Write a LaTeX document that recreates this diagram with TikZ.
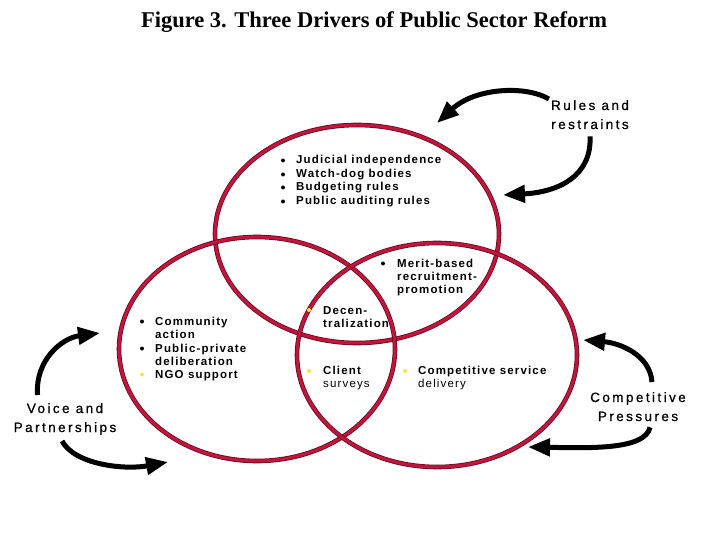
\documentclass[tikz,border=0pt]{standalone}
\usepackage{fontspec}
\usetikzlibrary{shapes.geometric,arrows.meta,positioning}
\setmainfont{Liberation Serif}
\newfontfamily\itemfont[LetterSpace=10]{Liberation Sans}
\newfontfamily\driverfont[LetterSpace=18, FakeBold=0.8]{Liberation Sans}
\definecolor{ringred}{RGB}{192,22,62}
\definecolor{ringdark}{RGB}{105,10,32}
\definecolor{dotyellow}{RGB}{240,228,70}

\begin{document}
\begin{tikzpicture}[x=1pt, y=-1pt,
	ring/.style={ellipse, draw=ringdark, double=ringred, double distance=3pt, line width=0.8pt, inner sep=0pt},
	item/.style={anchor=base west, inner sep=0pt, align=left, font=\itemfont\bfseries\fontsize{11.5}{13}\selectfont},
	driver/.style={anchor=base, inner sep=4pt, align=center, font=\driverfont\fontsize{13.5}{19}\selectfont},
	dot/.style={circle, fill=black, inner sep=0pt, minimum size=4pt},
	ydot/.style={dot, fill=dotyellow},
	push/.style={line width=5pt, -{Triangle[length=22pt, width=17pt]}},
	title/.style={anchor=base, inner sep=0pt, font=\bfseries\fontsize{22.5}{25}\selectfont}
	]
	
	\useasboundingbox (0,0) rectangle (720,540);
	
	\node[title] (head) at (374,28) {Figure 3. Three Drivers of Public Sector Reform};
	
	\node[ring, minimum width=284pt, minimum height=218pt] (ctop) at (357,234) {};
	\node[ring, minimum width=276pt, minimum height=224pt] (cleft) at (257,349) {};
	\node[ring, minimum width=280pt, minimum height=224pt] (cright) at (437,355) {};
	
	\node[item] (jud) at (296,164) {Judicial independence};
	\node[item] (watch) at (296,178) {Watch-dog bodies};
	\node[item] (budget) at (296,191) {Budgeting rules};
	\node[item] (audit) at (296,205) {Public auditing rules};
	\node[dot] (d1) at (283,160.5) {};
	\node[dot] (d2) at (283,174.5) {};
	\node[dot] (d3) at (283,187.5) {};
	\node[dot] (d4) at (283,201.5) {};
	
	\node[item] (merit) at (397,293) {Merit-based\\recruitment-\\promotion};
	\node[dot] (d5) at (383,263.5) {};
	
	\node[item] (decen) at (323,327) {Decen-\\tralization};
	\node[ydot] (d6) at (309,310) {};
	
	\node[item] (comm) at (155,338) {Community\\action};
	\node[item] (delib) at (155,365) {Public-private\\deliberation};
	\node[item] (ngo) at (155,378) {NGO support};
	\node[dot] (d7) at (142,321.5) {};
	\node[dot] (d8) at (142,348.5) {};
	\node[ydot] (d9) at (142,374.5) {};
	
	\node[item] (client) at (323,387) {Client\\\mdseries surveys};
	\node[ydot] (d10) at (309,371) {};
	\node[item] (compet) at (418,387) {Competitive service\\\mdseries delivery};
	\node[ydot] (d11) at (405,371) {};
	
	\node[driver] (rules) at (590,129) {Rules and\\restraints};
	\node[driver] (voice) at (65,432) {Voice and\\Partnerships};
	\node[driver] (press) at (638,421) {Competitive\\Pressures};
	
	\coordinate (rt1) at (437,123);
	\coordinate (rt2) at (503,195);
	\coordinate (vt1) at (100,333);
	\coordinate (vt2) at (168,462);
	\coordinate (pt1) at (583,340);
	\coordinate (pt2) at (528,447);
	
	\draw[push] ([xshift=2pt, yshift=-3pt]rules.north west) .. controls (525,85) and (475,88) .. (rt1);
	\draw[push] ([yshift=-3pt]rules.south) .. controls (592,175) and (560,192) .. (rt2);
	\draw[push] ([xshift=28pt, yshift=4pt]voice.north west) .. controls (35,360) and (62,338) .. (vt1);
	\draw[push] ([xshift=-3pt, yshift=-2pt]voice.south) .. controls (75,465) and (125,470) .. (vt2);
	\draw[push] ([xshift=14pt, yshift=6pt]press.north) .. controls (650,355) and (620,343) .. (pt1);
	\draw[push] ([xshift=12pt, yshift=-2pt]press.south) .. controls (645,450) and (590,448) .. (pt2);
	
\end{tikzpicture}
\end{document}
